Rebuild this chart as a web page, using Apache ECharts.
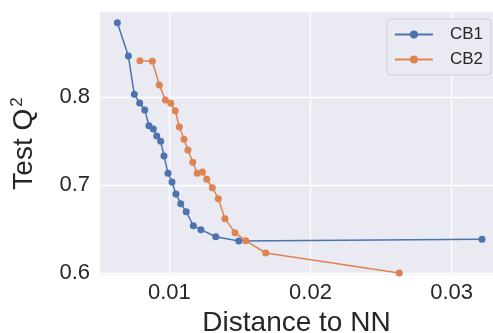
<!DOCTYPE html>
<html>
<head>
<meta charset="utf-8">
<script src="https://cdn.jsdelivr.net/npm/echarts@6/dist/echarts.min.js"></script>
<style>
  html, body { margin: 0; padding: 0; background: #ffffff; }
  #chart { width: 493px; height: 333px; }
</style>
</head>
<body>
<div id="chart"></div>
<script>
// values
var cb1X = [0.00632, 0.00710, 0.00752, 0.00790, 0.00826, 0.00856, 0.00887, 0.00911, 0.00939, 0.00962,
            0.00991, 0.01019, 0.01047, 0.01081, 0.01120, 0.01170, 0.01224, 0.01329, 0.01492, 0.03215];
var cb1Y = [0.8844, 0.8466, 0.8031, 0.7932, 0.7852, 0.7674, 0.7636, 0.7557, 0.7497, 0.7330,
            0.7133, 0.7034, 0.6898, 0.6787, 0.6697, 0.6537, 0.6492, 0.6412, 0.6364, 0.6383];
var cb2X = [0.00792, 0.00880, 0.00929, 0.00972, 0.01010, 0.01042, 0.01071, 0.01104, 0.01132, 0.01166,
            0.01198, 0.01234, 0.01265, 0.01305, 0.01347, 0.01394, 0.01465, 0.01541, 0.01683, 0.02629];
var cb2Y = [0.8413, 0.8406, 0.8136, 0.7966, 0.7928, 0.7844, 0.7659, 0.7519, 0.7398, 0.7258,
            0.7133, 0.7148, 0.7065, 0.6969, 0.6844, 0.6617, 0.6458, 0.6367, 0.6227, 0.6000];
var xTicks = [0.01, 0.02, 0.03];
var yTicks = [0.6, 0.7, 0.8];

function pairs(xs, ys) {
    var out = [];
    for (var i = 0; i < xs.length; i++) out.push([xs[i], ys[i]]);
    return out;
}

var font = 'Liberation Sans, Arial, sans-serif';
var chart = echarts.init(document.getElementById('chart'));
var option = {
    animation: false,
    backgroundColor: '#ffffff',
    grid: {
        left: 100, right: 0, top: 12, bottom: 58,
        outerBoundsMode: 'none', containLabel: false,
        backgroundColor: '#eaeaf2', show: true, borderWidth: 0
    },
    legend: {
        right: 2, top: 19,
        orient: 'vertical',
        itemWidth: 38, itemHeight: 10, itemGap: 8,
        padding: [7, 8, 7, 7],
        backgroundColor: '#eaeaf2',
        borderColor: '#d0d0d8', borderWidth: 1, borderRadius: 4,
        textStyle: { fontFamily: font, fontSize: 17, color: '#262626', padding: [0, 0, 0, 12] },
        data: ['CB1', 'CB2']
    },
    xAxis: {
        type: 'value',
        min: 0.00509, max: 0.03293,
        name: 'Distance to NN',
        nameLocation: 'middle', nameGap: 31,
        nameTextStyle: { fontFamily: font, fontSize: 28, color: '#262626' },
        axisLine: { show: false }, axisTick: { show: false, customValues: xTicks },
        axisLabel: { customValues: xTicks, fontFamily: font, fontSize: 22, color: '#262626', margin: 7 },
        splitLine: { show: true, lineStyle: { color: '#ffffff', width: 1.3 } }
    },
    yAxis: {
        type: 'value',
        min: 0.5977, max: 0.8966,
        name: '{a|Test Q}{s|2}',
        nameLocation: 'middle', nameGap: 60, nameRotate: 90,
        nameTextStyle: {
            fontFamily: font, fontSize: 28, color: '#262626',
            rich: {
                a: { fontFamily: font, fontSize: 28, color: '#262626' },
                s: { fontFamily: font, fontSize: 17, color: '#262626', verticalAlign: 'top', padding: [0, 0, 14, 2] }
            }
        },
        axisLine: { show: false }, axisTick: { show: false, customValues: yTicks },
        axisLabel: { customValues: yTicks, fontFamily: font, fontSize: 22, color: '#262626', margin: 10 },
        splitLine: { show: true, lineStyle: { color: '#ffffff', width: 1.3 } }
    },
    series: [{
        name: 'CB1',
        type: 'line',
        data: pairs(cb1X, cb1Y),
        symbol: 'circle', symbolSize: 7,
        color: '#4c72b0',
        lineStyle: { width: 1.5 },
        z: 2
    }, {
        name: 'CB2',
        type: 'line',
        data: pairs(cb2X, cb2Y),
        symbol: 'circle', symbolSize: 7,
        color: '#dd8452',
        lineStyle: { width: 1.5 },
        z: 3
    }]
};
chart.setOption(option);
</script>
</body>
</html>
